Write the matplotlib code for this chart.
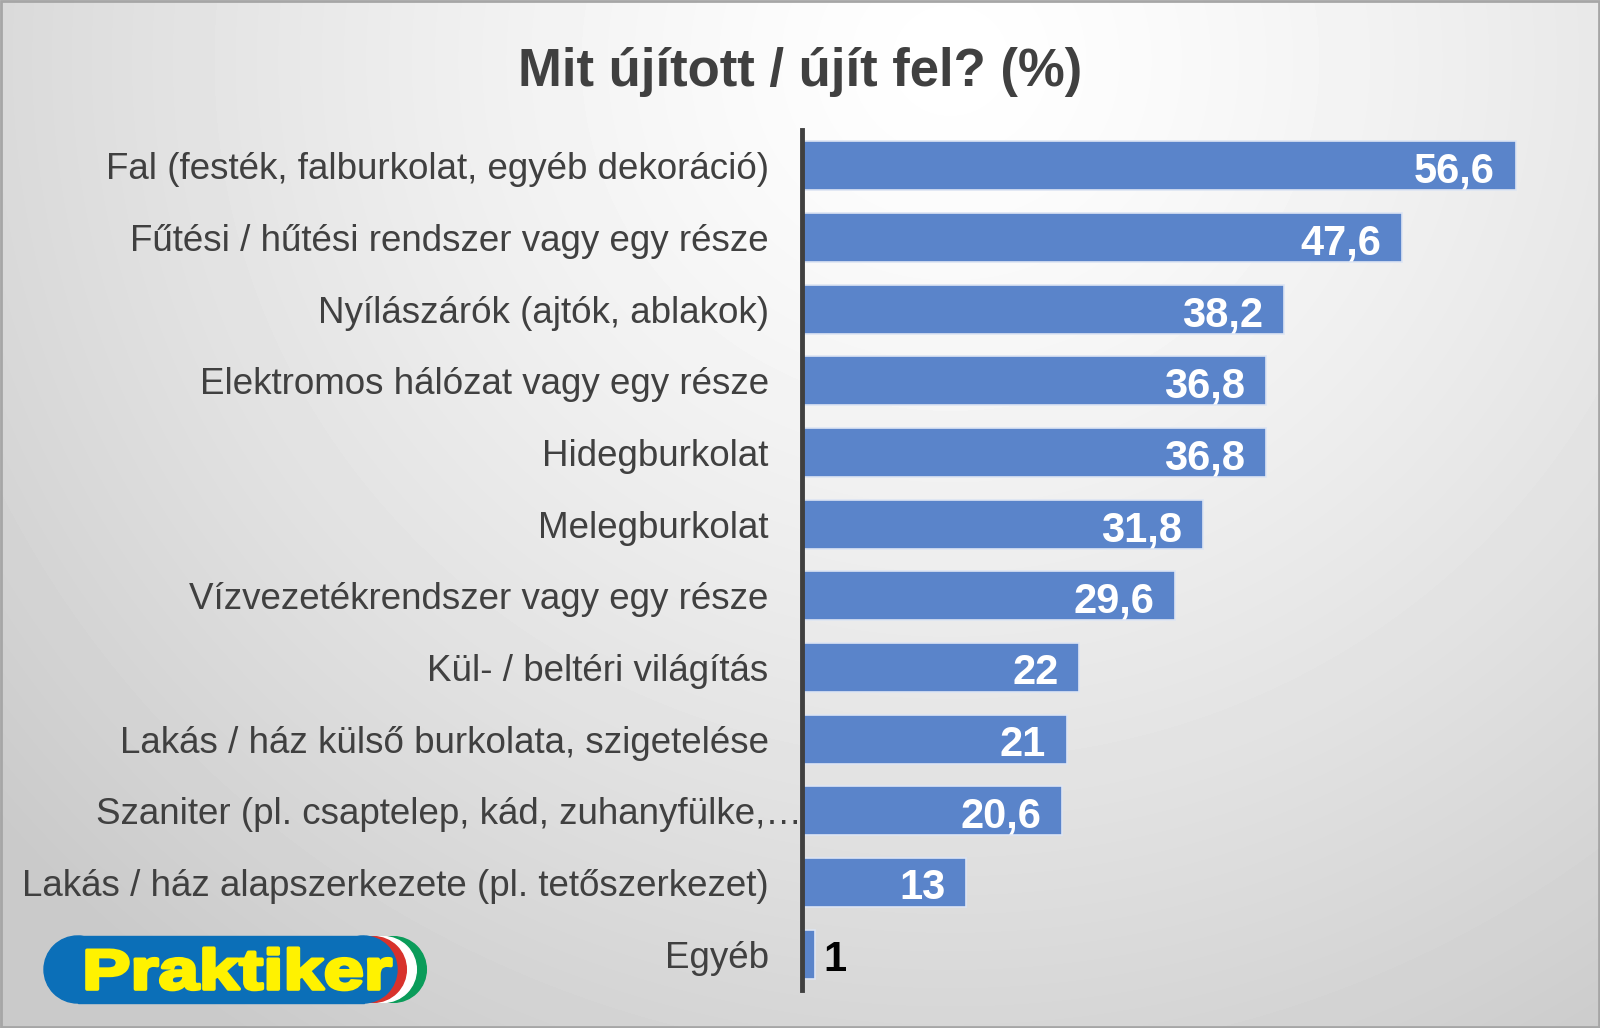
import numpy as np
import matplotlib
matplotlib.use("Agg")
import matplotlib.pyplot as plt
import matplotlib.transforms as mtransforms
from matplotlib.patches import Ellipse, Rectangle, PathPatch
from matplotlib.textpath import TextPath
from matplotlib.font_manager import FontProperties

plt.rcParams["font.family"] = ["Liberation Sans", "DejaVu Sans"]

# data, top to bottom
categories = [
    "Fal (festék, falburkolat, egyéb dekoráció)",
    "Fűtési / hűtési rendszer vagy egy része",
    "Nyílászárók (ajtók, ablakok)",
    "Elektromos hálózat vagy egy része",
    "Hidegburkolat",
    "Melegburkolat",
    "Vízvezetékrendszer vagy egy része",
    "Kül- / beltéri világítás",
    "Lakás / ház külső burkolata, szigetelése",
    "Szaniter (pl. csaptelep, kád, zuhanyfülke,…",
    "Lakás / ház alapszerkezete (pl. tetőszerkezet)",
    "Egyéb",
]
values = [56.6, 47.6, 38.2, 36.8, 36.8, 31.8, 29.6, 22, 21, 20.6, 13, 1]
value_labels = ["56,6", "47,6", "38,2", "36,8", "36,8", "31,8", "29,6", "22", "21", "20,6", "13", "1"]
title = "Mit újított / újít fel? (%)"

W, H = 1600, 1028
fig = plt.figure(figsize=(W / 100, H / 100), dpi=100)

# background layer in pixel coordinates
bg = fig.add_axes([0, 0, 1, 1], zorder=0)
bg.set_xlim(0, W)
bg.set_ylim(H, 0)
bg.axis("off")
yy, xx = np.mgrid[0:H, 0:W]
r = np.sqrt((xx - 950) ** 2 + ((yy - 60) / 0.95) ** 2) / 1250
r = np.clip(r, 0, 1)
shade = 1.0 - 0.21 * r ** 1.3
bg.imshow(shade, cmap="gray", vmin=0, vmax=1, extent=(0, W, H, 0), aspect="auto")
bg.add_patch(Rectangle((1, 1), W - 2, H - 2, fill=False, edgecolor="#a6a6a6", linewidth=2))

# logo
lx, ly, lw, lh = 44, 936, 353, 67
rad = lh / 2
blue = "#0b6fb8"
for off, col in [(30, "#0a9c5a"), (20, "white"), (10, "#d8322c")]:
    bg.add_patch(Ellipse((lx + lw - rad + off, ly + rad), lh * 0.98, lh * 0.98, color=col, zorder=2))
bg.add_patch(Ellipse((lx + rad, ly + rad), lh, lh, color=blue, zorder=3))
bg.add_patch(Ellipse((lx + lw - rad, ly + rad), lh, lh, color=blue, zorder=3))
bg.add_patch(Rectangle((lx + rad, ly), lw - 2 * rad, lh, color=blue, zorder=3))

tp = TextPath((0, 0), "Praktiker", size=100, prop=FontProperties(family="Liberation Sans", weight="bold"))
ext = tp.get_extents()
sx = 304 / ext.width
sy = 41 / 72.9
tr = mtransforms.Affine2D().translate(-ext.x0, 0).scale(sx, -sy).translate(87, 989) + bg.transData
bg.add_patch(PathPatch(tp, facecolor="#fff200", edgecolor="#fff200", linewidth=2.6,
                       joinstyle="round", transform=tr, zorder=4))

# title
fig.text(0.5, 1 - 72 / H, title, ha="center", va="center", fontsize=38,
         fontweight="bold", color="#404040")

# main chart
ax = fig.add_axes([802 / W, 38 / H, 782 / W, 860 / H], zorder=1)
ax.patch.set_alpha(0)
pos = np.arange(len(categories))
ax.barh(pos, values, height=0.68, color="#5a84ca", edgecolor="#dde5f3", linewidth=1.2)
ax.set_xlim(0, 62)
ax.set_ylim(len(categories) - 0.5, -0.5)
ax.set_xticks([])
ax.set_yticks(pos)
ax.set_yticklabels(categories, fontsize=26.5, color="#404040")
ax.tick_params(axis="y", length=0, pad=24)
for s in ["top", "right", "bottom"]:
    ax.spines[s].set_visible(False)
ax.spines["left"].set_color("#404040")
ax.spines["left"].set_linewidth(3.5)

# the truncated label runs up to the axis
lab = ax.get_yticklabels()[9]
lab.set_transform(lab.get_transform() + mtransforms.ScaledTranslation(0.33, 0, fig.dpi_scale_trans))

for i, (v, t) in enumerate(zip(values, value_labels)):
    if v > 5:
        ax.annotate(t, (v, i), xytext=(-15, -1), textcoords="offset points", ha="right",
                    va="center_baseline", fontsize=30, fontweight="bold", color="white")
    else:
        ax.annotate(t, (v, i), xytext=(6, -1), textcoords="offset points", ha="left",
                    va="center_baseline", fontsize=30, fontweight="bold", color="black")

fig.savefig("out.png", dpi=100)
